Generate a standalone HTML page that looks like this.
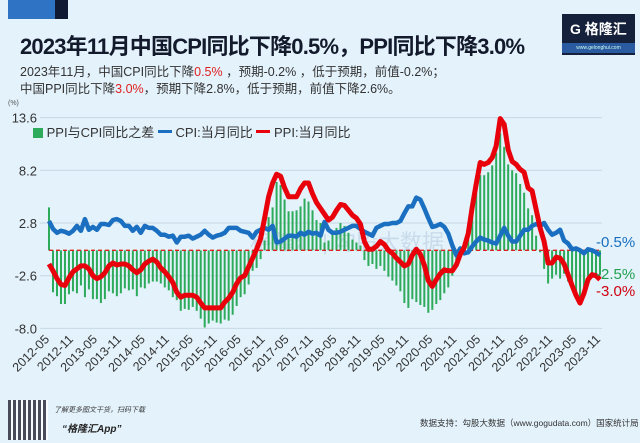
<!DOCTYPE html>
<html><head><meta charset="utf-8">
<style>
body{margin:0;width:640px;height:443px;overflow:hidden;background:#e3f2fb;font-family:"Liberation Sans","Noto Sans CJK SC",sans-serif;position:relative}
.a{position:absolute;white-space:nowrap}
</style></head><body>
<div class="a" style="left:8px;top:0;width:60px;height:19px;background:#111a33"></div>
<div class="a" style="left:8px;top:0;width:47px;height:19px;background:#2f73c4"></div>
<div class="a" style="left:20px;top:29px;font-size:22px;font-weight:bold;color:#121a2c;letter-spacing:-0.8px">2023年11月中国CPI同比下降0.5%，PPI同比下降3.0%</div>
<div class="a" style="left:562px;top:14px;width:73px;height:41px;background:#15203a">
<div class="a" style="left:8px;top:5px;color:#fff;font-size:14px;font-weight:bold">G 格隆汇</div>
<div class="a" style="left:0;top:29px;width:73px;height:10px;background:#2a5aa0;color:#cfe;font-size:5px;text-align:center;line-height:10px">www.gelonghui.com</div></div>
<div class="a" style="left:20px;top:61px;font-size:12.5px;color:#333">2023年11月，中国CPI同比下降<span style="color:#e02020">0.5%</span> ，预期-0.2% ，低于预期，前值-0.2%；</div>
<div class="a" style="left:20px;top:78px;font-size:12.5px;color:#333">中国PPI同比下降<span style="color:#e02020">3.0%</span>，预期下降2.8%，低于预期，前值下降2.6%。</div>
<div class="a" style="left:33px;top:122px;font-size:13px;color:#333">
<span style="display:inline-block;width:10px;height:10px;background:#2daa5a;vertical-align:-1px"></span> PPI与CPI同比之差 <span style="display:inline-block;width:14px;height:3px;background:#1a6fc0;vertical-align:4px"></span> CPI:当月同比 <span style="display:inline-block;width:14px;height:3px;background:#e8000b;vertical-align:4px"></span> PPI:当月同比</div>
<svg class="a" style="left:0;top:0" width="640" height="443" id="chart"></svg>
<div class="a" style="left:8px;top:400px;width:40px;height:40px;background:repeating-linear-gradient(90deg,#223 0 3px,#fff 3px 5px),#fff;opacity:.8"></div>
<div class="a" style="left:54px;top:405px;font-size:7px;font-style:italic;color:#333">了解更多图文干货，扫码下载</div>
<div class="a" style="left:62px;top:420px;font-size:10px;font-style:italic;font-weight:bold;color:#222">“格隆汇App”</div>
<div class="a" style="left:420px;top:417px;font-size:8.5px;color:#333">数据支持：勾股大数据（www.gogudata.com）国家统计局</div>
<script>
const yTicks=[13.6,8.2,2.8,-2.6,-8.0];
const xLabels=["2012-05","2012-11","2013-05","2013-11","2014-05","2014-11","2015-05","2015-11","2016-05","2016-11","2017-05","2017-11","2018-05","2018-11","2019-05","2019-11","2020-05","2020-11","2021-05","2021-11","2022-05","2022-11","2023-05","2023-11"];
const cpiValues=[3.0,2.2,1.8,2.0,1.9,1.7,2.0,2.5,
2.0,3.2,2.1,2.4,2.1,2.7,2.7,2.6,3.1,3.2,3.0,2.5,
2.5,2.0,2.4,1.8,2.5,2.3,2.3,2.0,1.6,1.6,1.4,1.5,
0.8,1.4,1.4,1.5,1.2,1.4,1.6,2.0,1.6,1.3,1.5,1.6,
1.8,2.3,2.3,2.3,2.0,1.9,1.8,1.3,1.9,2.1,2.3,2.1,
2.5,0.8,0.9,1.2,1.5,1.5,1.4,1.8,1.6,1.9,1.7,1.8,
1.5,2.9,2.1,1.8,1.8,1.9,2.1,2.3,2.5,2.5,2.2,1.9,
1.7,1.5,2.3,2.5,2.7,2.7,2.8,2.8,3.0,3.8,4.5,4.5,
5.4,5.2,4.3,3.3,2.4,2.5,2.7,2.4,1.7,0.5,-0.5,0.2,
-0.3,-0.2,0.4,0.9,1.3,1.1,1.0,0.8,0.7,1.5,2.3,1.5,
0.9,0.9,1.5,2.1,2.1,2.5,2.7,2.5,2.8,2.1,1.6,1.8,
2.1,1.0,0.7,0.1,0.2,0.0,-0.3,0.1,0.0,-0.2,-0.5];
const ppiValues=[-1.4,-2.1,-2.9,-3.5,-3.6,-2.8,-2.2,-1.9,
-1.6,-1.6,-1.9,-2.6,-2.9,-2.7,-2.3,-1.6,-1.3,-1.5,-1.4,-1.4,
-1.6,-2.0,-2.3,-2.0,-1.4,-1.1,-0.9,-1.2,-1.8,-2.2,-2.7,-3.3,
-4.3,-4.8,-4.6,-4.6,-4.6,-4.8,-5.4,-5.9,-5.9,-5.9,-5.9,-5.9,
-5.3,-4.9,-4.3,-3.4,-2.8,-2.6,-1.7,-0.8,0.1,1.2,3.3,5.5,
6.9,7.8,7.6,6.4,5.5,5.5,5.5,6.3,6.9,6.9,5.8,4.9,
4.3,3.7,3.1,3.4,4.1,4.7,4.6,4.1,3.6,3.3,2.7,0.9,
0.1,0.1,0.4,0.9,0.6,0.0,-0.3,-0.8,-1.2,-1.6,-1.4,-0.5,
0.1,-0.4,-1.5,-3.1,-3.7,-3.0,-2.4,-2.0,-2.1,-2.1,-1.5,-0.4,
0.3,1.7,4.4,6.8,9.0,8.8,9.0,9.5,10.7,13.5,12.9,10.3,
9.1,8.8,8.3,8.0,6.4,6.1,4.2,2.3,0.9,-1.3,-1.3,-0.7,
-0.8,-1.4,-2.5,-3.6,-4.6,-5.4,-4.4,-3.0,-2.5,-2.6,-3.0];
const diffValues=ppiValues.map((p,i)=>+(p-cpiValues[i]).toFixed(1));
diffValues[0]=4.4;
const endLabels=["-0.5%","-2.5%","-3.0%"];

const svg=document.getElementById('chart');
const NS='http://www.w3.org/2000/svg';
const N=cpiValues.length;
const X0=49,X1=600,Y0=223,PX=52.7/5.4;
const xs=i=>X0+i*(X1-X0)/(N-1);
const ys=v=>Y0-(v-2.8)*PX;
function mk(t,attrs){const e=document.createElementNS(NS,t);for(const k in attrs)e.setAttribute(k,attrs[k]);svg.appendChild(e);return e;}
yTicks.forEach(v=>{
 const l=mk('line',{x1:40,x2:602,y1:ys(v),y2:ys(v),stroke:'#c6d8e6','stroke-width':1});
 
 
 const t=mk('text',{x:37,y:ys(v)+5,'text-anchor':'end','font-size':13,fill:'#333','font-family':'Liberation Sans'});
 t.textContent=v.toFixed(1);
 
 
});
const u=mk('text',{x:8,y:105,'font-size':7,fill:'#555'});u.textContent='(%)';


xLabels.forEach((s,k)=>{
 const x=xs(k*6)+1,y=340;
 const t=mk('text',{x:x,y:y,'text-anchor':'end','font-size':12.5,fill:'#333',transform:`rotate(-45 ${x} ${y})`});
 t.textContent=s;
 
 
});
const wm=mk('text',{x:250,y:250,'font-size':22,fill:'#b8cde0',opacity:.6});wm.textContent='格隆汇 | 勾股大数据';


diffValues.forEach((v,i)=>{
 const b=mk('rect',{x:xs(i)-1,y:Math.min(ys(v),ys(0)),width:2,height:Math.abs(ys(v)-ys(0)),fill:'#2daa5a'});
 
 
});
const z=mk('line',{x1:X0,x2:X1,y1:ys(0),y2:ys(0),stroke:'#d22','stroke-width':1.3,'stroke-dasharray':'4 3'});


function path(vals,col,w,name){
 const d=vals.map((v,i)=>(i?'L':'M')+xs(i).toFixed(1)+','+ys(v).toFixed(1)).join('');
 const p=mk('path',{d:d,fill:'none',stroke:col,'stroke-width':w,'stroke-linejoin':'round'});
 
 
}
path(cpiValues,'#1a6fc0',4.5,'cpi-line');
path(ppiValues,'#e8000b',5,'ppi-line');
const ec=['#1a6fc0','#22a050','#d00010'];
const ey=[247,279,296];
endLabels.forEach((s,k)=>{
 const t=mk('text',{x:596,y:ey[k],'font-size':15,fill:ec[k]});
 t.textContent=s;
 
 
});
</script>
</body></html>
